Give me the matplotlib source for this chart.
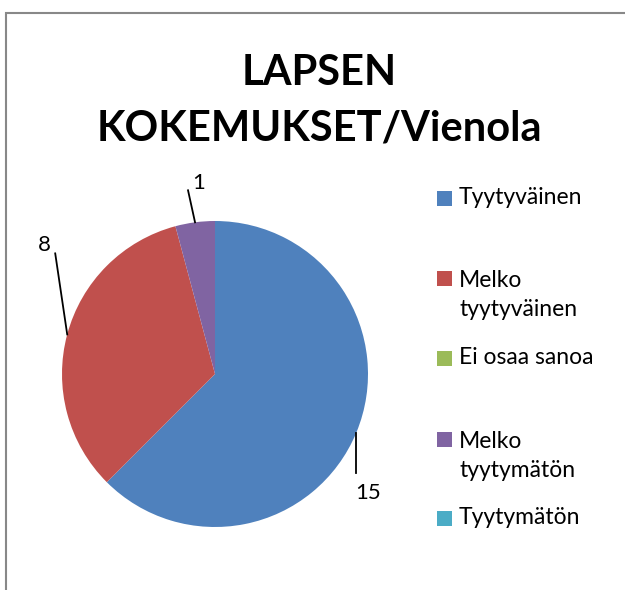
import numpy as np
import matplotlib.pyplot as plt
from matplotlib.patches import Rectangle

# Tiedot
categories = ['Tyytyväinen', 'Melko\ntyytyväinen', 'Ei osaa sanoa', 'Melko\ntyytymätön', 'Tyytymätön']
values = [15, 8, 0, 1, 0]
colors = ['#4F81BD', '#C0504D', '#9BBB59', '#8064A2', '#4BACC6']
title = 'LAPSEN\nKOKEMUKSET/Vienola'

W, H = 625, 590
plt.rcParams['font.family'] = ['Lato', 'DejaVu Sans']

fig = plt.figure(figsize=(W / 100, H / 100), dpi=100)
ax = fig.add_axes([0, 0, 1, 1])

# kehys
ax.add_patch(Rectangle((6, -10), W + 20, H - 13 + 10, fill=False,
                       edgecolor='#888888', linewidth=1.5))

cx, cy, r = 215, H - 374, 153
wedges, _ = ax.pie(values, colors=colors, startangle=90, counterclock=False,
                   radius=r, center=(cx, cy), frame=True,
                   wedgeprops=dict(linewidth=0))
ax.set_xlim(0, W)
ax.set_ylim(0, H)
ax.set_aspect('equal')
ax.axis('off')

# arvojen selitteet johtoviivoineen
leader = {0: (0, -40), 1: (-12, 81), 3: (-7, 32)}
label_off = {0: (12, -20), 1: (-11, 8), 3: (11, 7)}
for i, w in enumerate(wedges):
    if values[i] == 0:
        continue
    th = np.deg2rad((w.theta1 + w.theta2) / 2)
    x0, y0 = cx + r * np.cos(th), cy + r * np.sin(th)
    dx, dy = leader[i]
    ax.plot([x0, x0 + dx], [y0, y0 + dy], color='black', lw=1.3)
    lx, ly = label_off[i]
    ax.text(x0 + dx + lx, y0 + dy + ly, str(values[i]), ha='center', va='center',
            fontsize=16)

ax.text(319, H - 101, title, ha='center', va='center', fontsize=30,
        fontweight='bold', linespacing=1.55)

# selite
leg_y = [198, 278, 358, 439, 518]
for lab, col, y in zip(categories, colors, leg_y):
    ax.add_patch(Rectangle((437, H - y - 7.5), 15, 15, facecolor=col, edgecolor='none'))
    shift = 17 * lab.count('\n')
    ax.text(459, H - y - shift, lab, ha='left', va='center', fontsize=16.5,
            linespacing=1.42)

fig.savefig('out.png', dpi=100)
